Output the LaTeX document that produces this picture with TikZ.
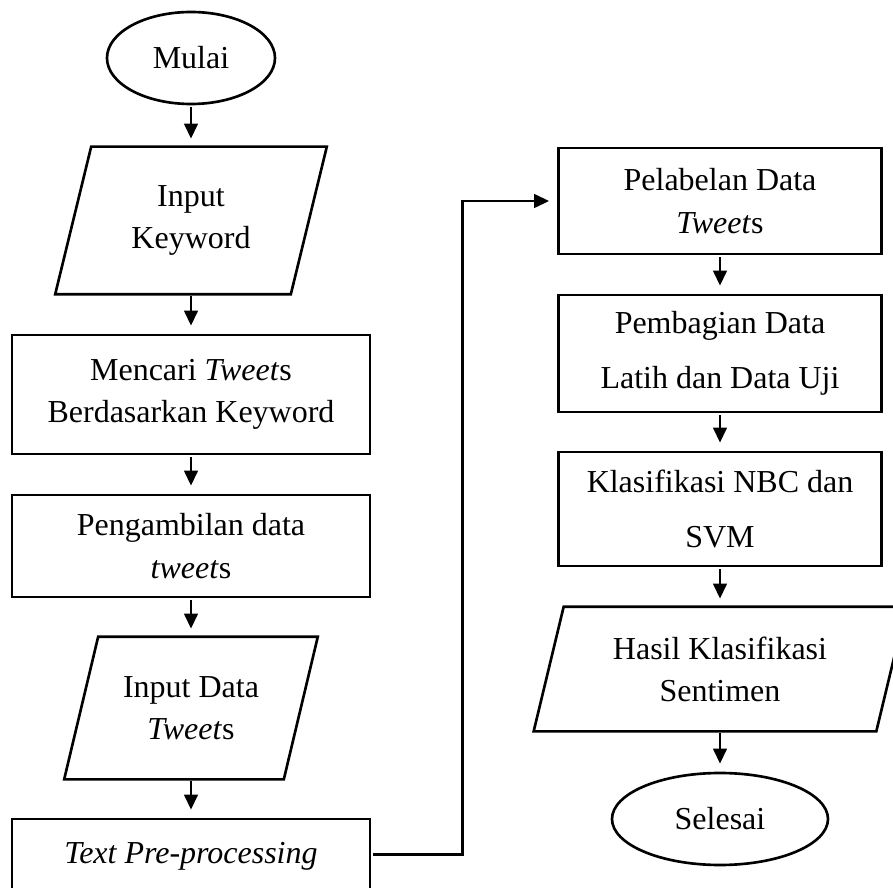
\documentclass[tikz,border=0pt]{standalone}
\usepackage{fontspec}
\setmainfont{Liberation Serif}
\usetikzlibrary{arrows.meta,shapes.geometric}

\begin{document}
\begin{tikzpicture}[font=\fontsize{18.2}{24}\selectfont, line width=1.5pt,
  term/.style={ellipse, draw, inner sep=0pt, minimum height=1.84cm},
  proc/.style={rectangle, draw, align=center, inner sep=0pt},
  io/.style={align=center, inner sep=0pt},
  arr/.style={-{Triangle[length=0.3cm, width=0.27cm]},
    shorten >=0.16cm, shorten <=0.04cm}]
\useasboundingbox (0,0) rectangle (17.86,17.74);
\clip (0,0) rectangle (17.86,17.74);
% ---- left column ----
\node[term, minimum width=3.36cm] (mulai) at (3.82,16.58) {Mulai};
\node[io, minimum width=4.66cm, minimum height=2.9cm] (kw) at (3.82,13.33)
  {Input\\Keyword};
\node[proc, minimum width=7.16cm, minimum height=2.38cm] (cari) at (3.82,9.85)
  {Mencari \textit{Tweet}s\\Berdasarkan Keyword};
\node[proc, minimum width=7.16cm, minimum height=2.04cm] (ambil) at (3.82,6.82)
  {Pengambilan data\\\textit{tweet}s};
\node[io, minimum width=4.34cm, minimum height=2.8cm] (inp) at (3.82,3.58)
  {Input Data\\\textit{Tweet}s};
\node[proc, minimum width=7.16cm, minimum height=2.2cm] (tpp) at (3.82,0.26)
  {\textit{Text Pre-processing}\\~};
% ---- right column ----
\node[proc, minimum width=6.46cm, minimum height=2.12cm] (label) at (14.40,13.72)
  {Pelabelan Data\\\textit{Tweet}s};
\node[proc, minimum width=6.46cm, minimum height=2.34cm] (bagi) at (14.40,10.67)
  {Pembagian Data\\[7pt]Latih dan Data Uji};
\node[proc, minimum width=6.46cm, minimum height=2.28cm] (klas) at (14.40,7.56)
  {Klasifikasi NBC dan\\[7pt]SVM};
\node[io, minimum width=6.8cm, minimum height=2.44cm] (hasil) at (14.40,4.36)
  {Hasil Klasifikasi\\Sentimen};
\node[term, minimum width=4.32cm] (selesai) at (14.40,1.36) {Selesai};
% ---- input/output shapes ----
\foreach \n/\s in {kw/0.36, inp/0.34, hasil/0.30}
  \draw ([xshift=\s cm]\n.north west) -- ([xshift=\s cm]\n.north east)
    -- ([xshift=-\s cm]\n.south east) -- ([xshift=-\s cm]\n.south west) -- cycle;
% ---- flow ----
\foreach \a/\b in {mulai/kw, kw/cari, cari/ambil, ambil/inp, inp/tpp,
                   label/bagi, bagi/klas, klas/hasil, hasil/selesai}
  \draw[arr] (\a.south) -- (\b.north);
\draw[arr] ([yshift=-0.74cm]tpp.north east) -- ++(1.82,0) |- (label.west);
\end{tikzpicture}
\end{document}
